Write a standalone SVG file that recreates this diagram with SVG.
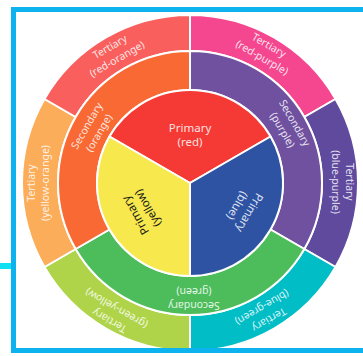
<svg xmlns="http://www.w3.org/2000/svg" width="363" height="356" viewBox="0 0 363 356">
<style>
.seg{stroke:#ffffff;stroke-width:2;stroke-linejoin:round}
.lbl{font-family:"Noto Sans","Open Sans",sans-serif;fill:#ffffff;fill-opacity:0.86;text-anchor:middle}
.t{font-size:10.5px}
.s{font-size:10.5px}
.p{font-size:11.5px}
.dark{fill:#1a1a1a;fill-opacity:1}
</style>
<rect width="363" height="356" fill="#ffffff"/>
<g id="wheel">
<g id="tertiary-red-purple"><path class="seg" fill="#F5478F" d="M190,15 A168,168 0 0 1 335.49,99 L304.32,117 A132,132 0 0 0 190,51 Z"/>
<g class="lbl t" transform="translate(265.5,51.5) rotate(30)"><text y="-3.5">Tertiary</text><text y="10.5">(red-purple)</text></g></g>
<g id="tertiary-blue-purple"><path class="seg" fill="#5F4A9E" d="M335.49,99 A168,168 0 0 1 335.49,267 L304.32,249 A132,132 0 0 0 304.32,117 Z"/>
<g class="lbl t" transform="translate(342,182) rotate(90)"><text y="-3.5">Tertiary</text><text y="10.5">(blue-purple)</text></g></g>
<g id="tertiary-blue-green"><path class="seg" fill="#00BDC6" d="M335.49,267 A168,168 0 0 1 190,351 L190,315 A132,132 0 0 0 304.32,249 Z"/>
<g class="lbl t" transform="translate(265.5,313.5) rotate(150)"><text y="-3.5">Tertiary</text><text y="10.5">(blue-green)</text></g></g>
<g id="tertiary-green-yellow"><path class="seg" fill="#AFD449" d="M190,351 A168,168 0 0 1 44.51,267 L75.68,249 A132,132 0 0 0 190,315 Z"/>
<g class="lbl t" transform="translate(113,314.5) rotate(210)"><text y="-3.5">Tertiary</text><text y="10.5">(green-yellow)</text></g></g>
<g id="tertiary-yellow-orange"><path class="seg" fill="#FCAD5A" d="M44.51,267 A168,168 0 0 1 44.51,99 L75.68,117 A132,132 0 0 0 75.68,249 Z"/>
<g class="lbl t" transform="translate(38.5,183) rotate(270)"><text y="-3.5">Tertiary</text><text y="10.5">(yellow-orange)</text></g></g>
<g id="tertiary-red-orange"><path class="seg" fill="#F9605D" d="M44.51,99 A168,168 0 0 1 190,15 L190,51 A132,132 0 0 0 75.68,117 Z"/>
<g class="lbl t" transform="translate(113.5,53) rotate(-30)"><text y="-3.5">Tertiary</text><text y="10.5">(red-orange)</text></g></g>
<g id="secondary-purple"><path class="seg" fill="#7051A0" d="M190,51 A132,132 0 0 1 304.32,249 L270.54,229.5 A93,93 0 0 0 190,90 Z"/>
<g class="lbl s" transform="translate(288.5,126.5) rotate(60)"><text y="-3.5">Secondary</text><text y="10.5">(purple)</text></g></g>
<g id="secondary-green"><path class="seg" fill="#4DBD5C" d="M304.32,249 A132,132 0 0 1 75.68,249 L109.46,229.5 A93,93 0 0 0 270.54,229.5 Z"/>
<g class="lbl s" transform="translate(194,298.5) rotate(180)"><text y="-3.5">Secondary</text><text y="10.5">(green)</text></g></g>
<g id="secondary-orange"><path class="seg" fill="#F96934" d="M75.68,249 A132,132 0 0 1 190,51 L190,90 A93,93 0 0 0 109.46,229.5 Z"/>
<g class="lbl s" transform="translate(93,129.5) rotate(-60)"><text y="-3.5">Secondary</text><text y="10.5">(orange)</text></g></g>
<g id="primary-red"><path class="seg" fill="#F53A36" d="M190,183 L109.46,136.5 A93,93 0 0 1 270.54,136.5 Z"/>
<g class="lbl p" transform="translate(190,135) rotate(0)"><text y="-3.5">Primary</text><text y="10.5">(red)</text></g></g>
<g id="primary-blue"><path class="seg" fill="#2E53A3" d="M190,183 L270.54,136.5 A93,93 0 0 1 190,276 Z"/>
<g class="lbl p" transform="translate(243,209) rotate(120)"><text y="-3.5">Primary</text><text y="10.5">(blue)</text></g></g>
<g id="primary-yellow"><path class="seg" fill="#F7E94D" d="M190,183 L190,276 A93,93 0 0 1 109.46,136.5 Z"/>
<g class="lbl p dark" transform="translate(142,211.5) rotate(-120)"><text y="-3.5">Primary</text><text y="10.5">(yellow)</text></g></g>
</g>
<g id="frame">
<rect x="13.5" y="9.5" width="360" height="341" fill="none" stroke="#0CB3EE" stroke-width="5"/>
<rect x="0" y="263" width="11" height="6" fill="#10E0F0"/>
</g>
</svg>
